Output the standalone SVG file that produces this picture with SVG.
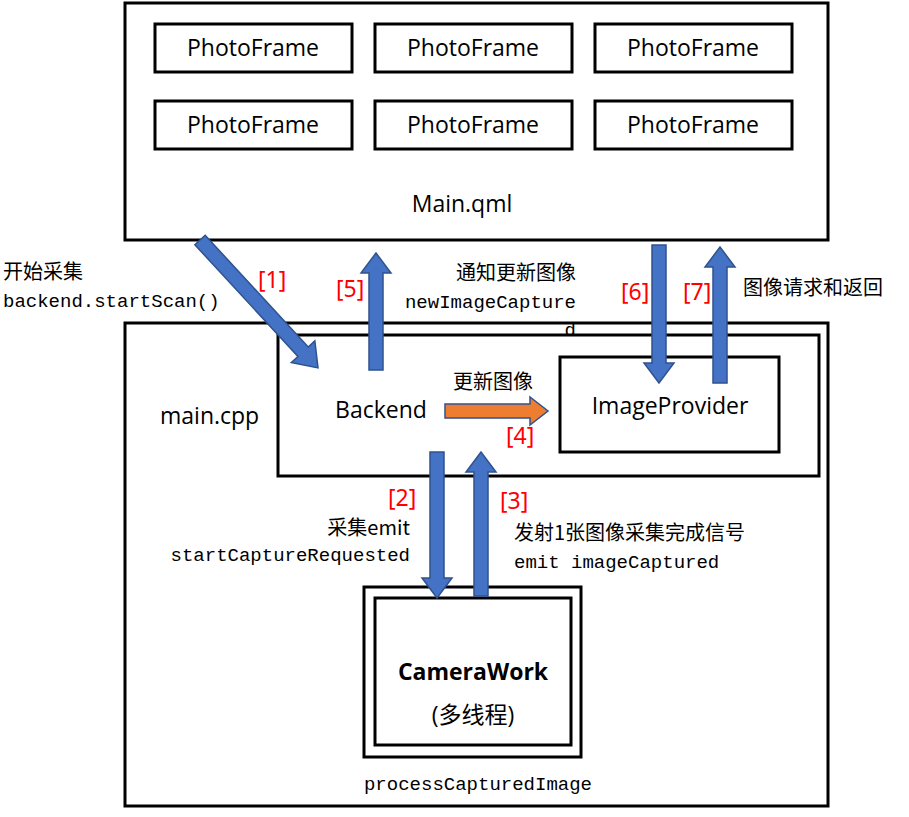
<svg xmlns="http://www.w3.org/2000/svg" width="909" height="817" viewBox="0 0 909 817">
<style>
.box{fill:#fff;stroke:#000;stroke-width:3}
.ba{fill:#4472C4;stroke:#2F528F;stroke-width:1.5}
.oa{fill:#ED7D31;stroke:#2F528F;stroke-width:1.5}
.t{font-family:"Open Sans","Noto Sans","Noto Sans CJK SC",sans-serif;font-size:23px;fill:#000}
.m{font-family:"Liberation Mono",monospace;font-size:19px;fill:#000}
.c{font-family:"Noto Sans CJK SC",sans-serif;font-size:20px;fill:#000}
.r{font-family:"Noto Sans","Noto Sans CJK SC",sans-serif;font-size:23px;fill:#f00}
</style>
<g id="mainqml">
<rect class="box" x="125" y="3" width="703" height="237"/>
<text class="t" x="462" y="212" text-anchor="middle">Main.qml</text>
</g>
<g id="pf1"><rect class="box" x="155" y="24" width="197" height="48"/><text class="t" x="253" y="56" text-anchor="middle">PhotoFrame</text></g>
<g id="pf2"><rect class="box" x="375" y="24" width="197" height="48"/><text class="t" x="473" y="56" text-anchor="middle">PhotoFrame</text></g>
<g id="pf3"><rect class="box" x="595" y="24" width="197" height="48"/><text class="t" x="693" y="56" text-anchor="middle">PhotoFrame</text></g>
<g id="pf4"><rect class="box" x="155" y="101" width="197" height="48"/><text class="t" x="253" y="133" text-anchor="middle">PhotoFrame</text></g>
<g id="pf5"><rect class="box" x="375" y="101" width="197" height="48"/><text class="t" x="473" y="133" text-anchor="middle">PhotoFrame</text></g>
<g id="pf6"><rect class="box" x="595" y="101" width="197" height="48"/><text class="t" x="693" y="133" text-anchor="middle">PhotoFrame</text></g>
<g id="maincpp">
<rect class="box" x="125" y="323" width="703" height="483"/>
<text class="t" x="160" y="424">main.cpp</text>
</g>
<g id="backend">
<rect class="box" x="278" y="335" width="541" height="141"/>
<text class="t" x="381" y="418" text-anchor="middle">Backend</text>
</g>
<g id="imageprovider">
<rect class="box" x="560" y="357" width="219" height="95"/>
<text class="t" x="670" y="414" text-anchor="middle">ImageProvider</text>
</g>
<g id="camerawork">
<rect class="box" x="364" y="587" width="217" height="170"/>
<rect class="box" x="375" y="598" width="196" height="147"/>
<text class="t" x="473" y="680" text-anchor="middle" font-weight="bold">CameraWork</text>
<text class="t" x="473" y="723" text-anchor="middle" font-size="26">(多线程)</text>
<text class="m" x="478" y="790" text-anchor="middle">processCapturedImage</text>
</g>
<g id="connectors">
<polygon class="ba" transform="translate(200,240) rotate(47.3)" points="0,-7 152,-7 152,-16 174,0 152,16 152,7 0,7"/>
<polygon class="ba" points="369,370 369,273 361,273 376,253 391,273 383,273 383,370"/>
<polygon class="ba" points="652,245 666,245 666,363 674,363 659,383 644,363 652,363"/>
<polygon class="ba" points="713,383 713,267 705,267 720,247 735,267 727,267 727,383"/>
<polygon class="ba" points="430,452 444,452 444,578 452,578 437,598 422,578 430,578"/>
<polygon class="ba" points="474,596 474,472 466,472 481,452 496,472 488,472 488,596"/>
<polygon class="oa" points="445,404 530,404 530,397 548,411 530,425 530,418 445,418"/>
</g>
<g id="labels">
<text class="c" x="3" y="279">开始采集</text>
<text class="m" x="3" y="307">backend.startScan()</text>
<text class="r" x="258" y="288">[1]</text>
<text class="r" x="336" y="297">[5]</text>
<text class="c" x="576" y="280" text-anchor="end">通知更新图像</text>
<text class="m" x="576" y="308" text-anchor="end">newImageCapture</text>
<text class="m" x="576" y="336" text-anchor="end">d</text>
<text class="r" x="621" y="300">[6]</text>
<text class="r" x="683" y="300">[7]</text>
<text class="c" x="743" y="295">图像请求和返回</text>
<text class="c" x="453" y="389">更新图像</text>
<text class="r" x="506" y="444">[4]</text>
<text class="r" x="388" y="506">[2]</text>
<text class="c" x="410" y="535" text-anchor="end">采集emit</text>
<text class="m" x="410" y="561" text-anchor="end">startCaptureRequested</text>
<text class="r" x="500" y="509">[3]</text>
<text class="c" x="514" y="540">发射1张图像采集完成信号</text>
<text class="m" x="514" y="568">emit imageCaptured</text>
</g>
</svg>
